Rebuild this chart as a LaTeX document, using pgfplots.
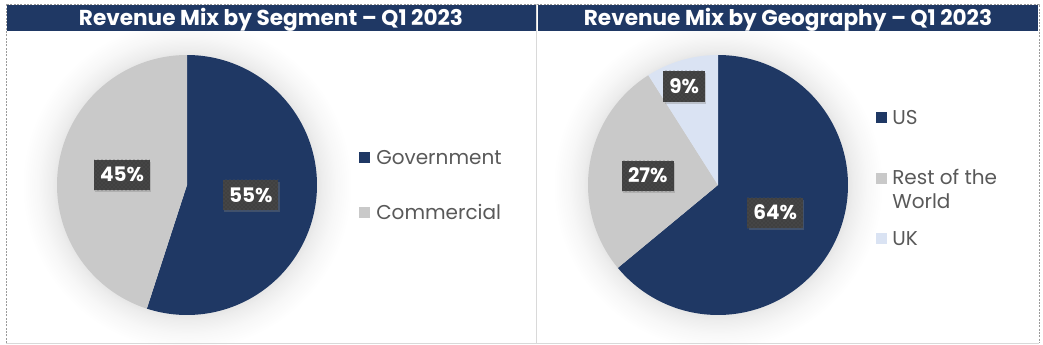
\documentclass[border=0pt]{standalone}
\usepackage{pgfplots}
\pgfplotsset{compat=1.18}
\usepackage{pgfplotstable}
\usepackage{fontspec}
\setmainfont{Poppins}
\usetikzlibrary{shadows,patterns}
\definecolor{navy}{HTML}{1F3864}
\definecolor{lgrey}{HTML}{C9C9C9}
\definecolor{lblue}{HTML}{DAE3F3}
\definecolor{boxgrey}{HTML}{404040}
\definecolor{legtext}{HTML}{595959}
\definecolor{framegrey}{HTML}{9A9A9A}
\definecolor{sepgrey}{HTML}{D9D9D9}

\pgfplotstableread{
name value
Government 55
Commercial 45
}\segtable
\pgfplotstableread{
name value
US 64
RestOfWorld 27
UK 9
}\geotable

\pgfdeclareradialshading{pieglow}{\pgfpoint{0bp}{0bp}}{color(0bp)=(black!10); color(19.6bp)=(black!10); color(20.5bp)=(black!7); color(22.5bp)=(black!3); color(25bp)=(white); color(50bp)=(white)}

\tikzset{pct/.style={fill=boxgrey, text=white, font=\fontsize{15}{15}\selectfont\bfseries,
  inner xsep=4.5pt, inner ysep=0pt, minimum height=23pt, text height=10.5pt, text depth=0pt,
  drop shadow={opacity=0.35,shadow xshift=1pt,shadow yshift=-1.5pt},
  postaction={pattern=crosshatch dots, pattern color=white!12!boxgrey}}}
\tikzset{leg/.style={anchor=base west, text=legtext, font=\fontsize{15}{15}\selectfont, inner sep=0pt}}

\begin{document}
\begin{tikzpicture}
\pgfplotstablegetelem{0}{value}\of\segtable \edef\vG{\pgfplotsretval}
\pgfplotstablegetelem{1}{value}\of\segtable \edef\vC{\pgfplotsretval}
\pgfplotstablegetelem{0}{value}\of\geotable \edef\vUS{\pgfplotsretval}
\pgfplotstablegetelem{1}{value}\of\geotable \edef\vRW{\pgfplotsretval}
\pgfplotstablegetelem{2}{value}\of\geotable \edef\vUK{\pgfplotsretval}
\pgfmathsetmacro\aG{90-3.6*\vG}
\pgfmathsetmacro\aC{\aG-3.6*\vC}
\pgfmathsetmacro\aUS{90-3.6*\vUS}
\pgfmathsetmacro\aRW{\aUS-3.6*\vRW}
\pgfmathsetmacro\aUK{\aRW-3.6*\vUK}

\begin{scope}[x=0.75pt,y=-0.75pt]
  \path[use as bounding box] (0,0) rectangle (1043,345);
  \fill[white] (0,0) rectangle (1043,345);
  % glow behind pies
  \shade[shading=pieglow] (187,185) circle[radius=165];
  \shade[shading=pieglow] (718,185) circle[radius=165];
  % frame
  \draw[framegrey, dash pattern=on 1.5pt off 1pt, line width=0.6pt] (6,343) -- (6,4) -- (1039,4) -- (1039,343);
  \draw[sepgrey, line width=0.8pt] (6,343.5) -- (1039,343.5);
  \draw[sepgrey, line width=0.8pt] (536.5,4) -- (536.5,343.5);
  % title bars
  \fill[navy] (7,5) rectangle (535.5,31);
  \fill[navy] (537.5,5) rectangle (1038,31);
  \node[anchor=base, text=white, font=\fontsize{16.2}{16}\selectfont\bfseries, inner sep=0pt] at (271,25.5) {Revenue Mix by Segment – Q1 2023};
  \node[anchor=base, text=white, font=\fontsize{16.2}{16}\selectfont\bfseries, inner sep=0pt] at (788,25.5) {Revenue Mix by Geography – Q1 2023};
  % legends
  \fill[navy] (359,152) rectangle (370,163);
  \node[leg] at (376,165) {Government};
  \fill[lgrey] (359,207) rectangle (370,218);
  \node[leg] at (376,220) {Commercial};
  \fill[navy] (876,112) rectangle (887,123);
  \node[leg] at (892,124.5) {US};
  \fill[lgrey] (876,173) rectangle (887,184);
  \node[leg] at (892,184.5) {Rest of the};
  \node[leg] at (892,209) {World};
  \fill[lblue] (876,233) rectangle (887,244);
  \node[leg] at (892,246) {UK};
\end{scope}

\begin{axis}[at={(140.25pt,-138.75pt)}, anchor=center, width=195pt, height=195pt,
  scale only axis, hide axis, clip=false, xmin=-1, xmax=1, ymin=-1, ymax=1]
  \addplot[fill=navy, draw=none, domain=\aG:90, samples=120] ({cos(x)},{sin(x)}) -- (axis cs:0,0) -- cycle;
  \addplot[fill=lgrey, draw=none, domain=\aC:\aG, samples=120] ({cos(x)},{sin(x)}) -- (axis cs:0,0) -- cycle;
  \node[pct] at (axis cs:-0.5,0.077) {45\%};
  \node[pct] at (axis cs:0.49,-0.077) {55\%};
\end{axis}

\begin{axis}[at={(538.5pt,-138.75pt)}, anchor=center, width=195pt, height=195pt,
  scale only axis, hide axis, clip=false, xmin=-1, xmax=1, ymin=-1, ymax=1]
  \addplot[fill=navy, draw=none, domain=\aUS:90, samples=120] ({cos(x)},{sin(x)}) -- (axis cs:0,0) -- cycle;
  \addplot[fill=lgrey, draw=none, domain=\aRW:\aUS, samples=80] ({cos(x)},{sin(x)}) -- (axis cs:0,0) -- cycle;
  \addplot[fill=lblue, draw=none, domain=\aUK:\aRW, samples=40] ({cos(x)},{sin(x)}) -- (axis cs:0,0) -- cycle;
  \node[pct] at (axis cs:-0.26,0.76) {9\%};
  \node[pct] at (axis cs:-0.54,0.07) {27\%};
  \node[pct] at (axis cs:0.44,-0.215) {64\%};
\end{axis}
\end{tikzpicture}
\end{document}
